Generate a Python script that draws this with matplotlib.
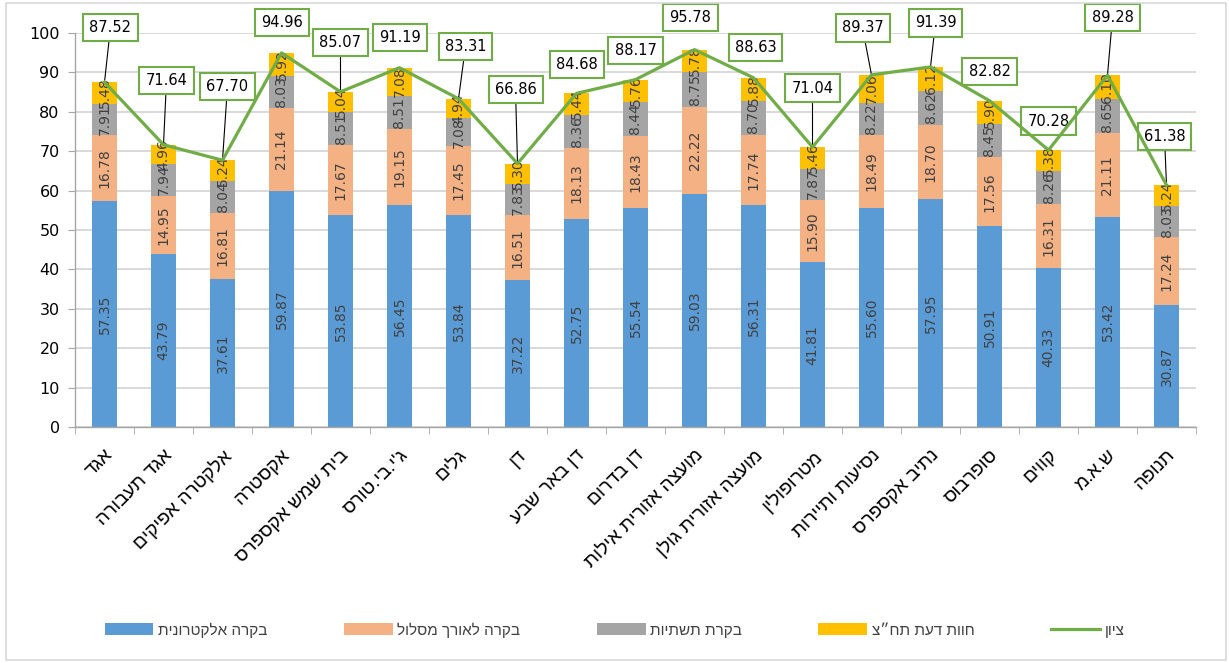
import matplotlib
matplotlib.use("Agg")
import matplotlib.pyplot as plt
from matplotlib.patches import Patch, Rectangle
from matplotlib.lines import Line2D
import numpy as np

# ---------------- data ----------------
categories = ["אגד", "אגד תעבורה", "אלקטרה אפיקים", "אקסטרה", "בית שמש אקספרס",
              "ג'י.בי.טורס", "גלים", "דן", "דן באר שבע", "דן בדרום",
              "מועצה אזורית אילות", "מועצה אזורית גולן", "מטרופולין", "נסיעות ותיירות",
              "נתיב אקספרס", "סופרבוס", "קווים", "ש.א.מ", "תנופה"]

electronic = [57.35, 43.79, 37.61, 59.87, 53.85, 56.45, 53.84, 37.22, 52.75, 55.54,
              59.03, 56.31, 41.81, 55.60, 57.95, 50.91, 40.33, 53.42, 30.87]
route      = [16.78, 14.95, 16.81, 21.14, 17.67, 19.15, 17.45, 16.51, 18.13, 18.43,
              22.22, 17.74, 15.90, 18.49, 18.70, 17.56, 16.31, 21.11, 17.24]
infra      = [7.91, 7.94, 8.04, 8.03, 8.51, 8.51, 7.08, 7.83, 8.36, 8.44,
              8.75, 8.70, 7.87, 8.22, 8.62, 8.45, 8.26, 8.65, 8.03]
opinion    = [5.48, 4.96, 5.24, 5.92, 5.04, 7.08, 4.94, 5.30, 5.44, 5.76,
              5.78, 5.88, 5.46, 7.06, 6.12, 5.90, 5.38, 6.10, 5.24]
score      = [87.52, 71.64, 67.70, 94.96, 85.07, 91.19, 83.31, 66.86, 84.68, 88.17,
              95.78, 88.63, 71.04, 89.37, 91.39, 82.82, 70.28, 89.28, 61.38]

series_names = ["בקרה אלקטרונית", "בקרה לאורך מסלול", "בקרת תשתיות", "חוות דעת תח״צ"]
line_name = "ציון"

# ---------------- layout / style ----------------
colors = ["#5B9BD5", "#F4B183", "#A5A5A5", "#FFC000"]
line_color = "#70AD47"
# offsets (pixels) of the score labels relative to their points
label_offsets = [(6, 55), (3, 64), (5, 74), (0, 30), (0, 49), (0, 30), (7, 52), (-2, 74),
                 (0, 29), (0, 29), (-4, 32), (2, 30), (0, 59), (-9, 47), (5, 44),
                 (0, 29), (0, 29), (5, 58), (-2, 49)]

HEB = ["Liberation Sans", "DejaVu Sans"]


def rtl(s):
    return s[::-1]


fig = plt.figure(figsize=(12.29, 6.63), dpi=100)
ax = fig.add_axes([75 / 1229, 1 - 427 / 663, (1196 - 75) / 1229, (427 - 33) / 663])

x = np.arange(len(categories))
bottom = np.zeros(len(categories))
for vals, col in zip([electronic, route, infra, opinion], colors):
    vals = np.array(vals)
    ax.bar(x, vals, width=0.42, bottom=bottom, color=col, zorder=2)
    for xi, b, v in zip(x, bottom, vals):
        ax.text(xi, b + v / 2, f"{v:.2f}", rotation=90, ha="center", va="center",
                fontsize=10, color="#404040", zorder=3, family="DejaVu Sans")
    bottom += vals

ax.plot(x, score, color=line_color, lw=2.3, zorder=6, solid_joinstyle="round")

for xi, s, (dx, dy) in zip(x, score, label_offsets):
    kw = {}
    if dy > 40:
        kw["arrowprops"] = dict(arrowstyle="-", color="black", lw=0.8,
                                shrinkA=0, shrinkB=0)
    ax.annotate(f"{s:.2f}", xy=(xi, s), xytext=(dx, dy), textcoords="offset pixels",
                ha="center", va="center", fontsize=10.5, color="black",
                bbox=dict(boxstyle="square,pad=0.42", fc="white", ec=line_color, lw=1.5),
                zorder=5, annotation_clip=False, **kw)

ax.set_xlim(-0.5, len(categories) - 0.5)
ax.set_ylim(0, 100)
ax.set_yticks(np.arange(0, 101, 10))
ax.grid(axis="y", color="#D9D9D9", lw=1.4, zorder=0)
ax.set_axisbelow(True)

for sp in ["top", "right"]:
    ax.spines[sp].set_visible(False)
for sp in ["left", "bottom"]:
    ax.spines[sp].set_color("#A6A6A6")
    ax.spines[sp].set_linewidth(1.0)

ax.tick_params(axis="y", length=5, color="#A6A6A6", labelsize=11.5, pad=6, labelcolor="black")
ax.set_xticks(x)
ax.set_xticklabels([rtl(c) for c in categories], rotation=45, ha="right",
                   rotation_mode="anchor", fontsize=13.8, family=HEB)
ax.tick_params(axis="x", length=0, pad=14)
ax.set_xticks(np.arange(-0.5, len(categories), 1), minor=True)
ax.tick_params(axis="x", which="minor", length=5, color="#A6A6A6")

handles = [Patch(facecolor=c, edgecolor="none") for c in colors]
handles.append(Line2D([0], [0], color=line_color, lw=2.3))
leg = fig.legend(handles, [rtl(n) for n in series_names] + [rtl(line_name)],
                 loc="center", bbox_to_anchor=(0.5, 1 - 630 / 663), ncol=5,
                 frameon=False, handlelength=3.2, handleheight=0.8,
                 columnspacing=5.0, handletextpad=0.3, prop={"family": HEB, "size": 11})
for t in leg.get_texts():
    t.set_color("#404040")

fig.patches.append(Rectangle((6 / 1229, 3 / 663), 1220 / 1229, 657 / 663,
                             transform=fig.transFigure, fill=False, ec="#D9D9D9", lw=1.2))

fig.savefig("out.png", dpi=100, facecolor="white")
